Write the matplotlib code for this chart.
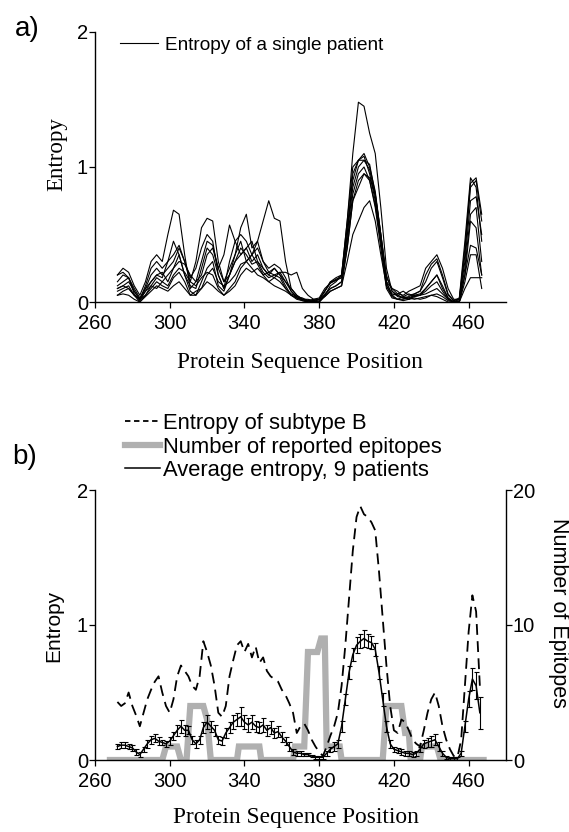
import numpy as np
import matplotlib.pyplot as plt
from matplotlib.lines import Line2D

plt.rcParams['font.family'] = ['Liberation Sans', 'DejaVu Sans']

W, H = 569, 832

# a) entropy of each single patient (9 patients)
pos_a = np.arange(272, 468, 3)
p1 = [0.15, 0.2, 0.18, 0.1, 0.03, 0.1, 0.15, 0.2, 0.18,
      0.3, 0.45, 0.35, 0.2, 0.12,
      0.1, 0.25, 0.4, 0.35, 0.2,
      0.1, 0.2, 0.3, 0.35, 0.4,
      0.3, 0.35, 0.25, 0.2, 0.25,
      0.2, 0.15, 0.1, 0.05, 0.02,
      0.01, 0.0, 0.0, 0.05, 0.12,
      0.15, 0.2, 0.6, 1.1, 1.48,
      1.45, 1.25, 1.1, 0.7, 0.25,
      0.08, 0.05, 0.03, 0.02, 0.05,
      0.05, 0.1, 0.15, 0.2, 0.1,
      0.03, 0.0, 0.0, 0.2, 0.6,
      0.55, 0.2]
p2 = [0.2, 0.25, 0.22, 0.12, 0.05, 0.15, 0.3, 0.35, 0.3,
      0.5, 0.68, 0.65, 0.35, 0.1,
      0.15, 0.3, 0.45, 0.42, 0.25,
      0.15, 0.25, 0.35, 0.45, 0.3,
      0.35, 0.28, 0.2, 0.22, 0.25,
      0.2, 0.12, 0.05, 0.03, 0.02,
      0.02, 0.01, 0.02, 0.08, 0.15,
      0.16, 0.18, 0.5, 0.85, 1.0,
      1.05, 1.02, 0.8, 0.5, 0.15,
      0.1, 0.06, 0.05, 0.08, 0.1,
      0.12, 0.25, 0.3, 0.35, 0.25,
      0.1, 0.02, 0.02, 0.35, 0.85,
      0.9, 0.6]
p3 = [0.1, 0.12, 0.15, 0.08, 0.02, 0.1, 0.2, 0.25, 0.2,
      0.25, 0.3, 0.4, 0.3, 0.15,
      0.3, 0.55, 0.62, 0.6, 0.3,
      0.15, 0.2, 0.3, 0.4, 0.35,
      0.28, 0.3, 0.22, 0.18, 0.2,
      0.18, 0.1, 0.06, 0.04, 0.02,
      0.01, 0.02, 0.03, 0.1, 0.14,
      0.16, 0.2, 0.55, 0.9, 1.05,
      1.08, 0.95, 0.75, 0.45, 0.12,
      0.05, 0.06, 0.08, 0.05, 0.06,
      0.08, 0.15, 0.25, 0.3, 0.18,
      0.05, 0.01, 0.03, 0.45, 0.92,
      0.85, 0.45]
p4 = [0.05, 0.08, 0.1, 0.05, 0.02, 0.05, 0.12, 0.18, 0.15,
      0.2, 0.25, 0.3, 0.28, 0.2,
      0.15, 0.2, 0.35, 0.4, 0.25,
      0.35, 0.57, 0.45, 0.35, 0.4,
      0.45, 0.3, 0.25, 0.2, 0.18,
      0.15, 0.1, 0.05, 0.03, 0.02,
      0.0, 0.0, 0.01, 0.06, 0.1,
      0.12, 0.15, 0.45, 0.8, 0.95,
      1.0, 0.9, 0.7, 0.4, 0.1,
      0.03, 0.02, 0.04, 0.03, 0.05,
      0.06, 0.1, 0.15, 0.2, 0.12,
      0.03, 0.0, 0.02, 0.3, 0.75,
      0.78, 0.5]
p5 = [0.12, 0.15, 0.18, 0.06, 0.01, 0.08, 0.15, 0.2, 0.22,
      0.15, 0.25, 0.35, 0.2, 0.08,
      0.05, 0.15, 0.25, 0.3, 0.12,
      0.08, 0.2, 0.35, 0.55, 0.65,
      0.4, 0.45, 0.3, 0.22, 0.2,
      0.22, 0.15, 0.08, 0.03, 0.01,
      0.0, 0.0, 0.02, 0.08, 0.14,
      0.17, 0.18, 0.5, 0.95, 1.05,
      1.1, 1.0, 0.82, 0.5, 0.18,
      0.1, 0.08, 0.04, 0.06, 0.04,
      0.05, 0.08, 0.12, 0.15, 0.08,
      0.02, 0.0, 0.01, 0.25, 0.65,
      0.7, 0.3]
p6 = [0.08, 0.1, 0.12, 0.05, 0.0, 0.05, 0.1, 0.15, 0.12,
      0.1, 0.18, 0.22, 0.15, 0.05,
      0.08, 0.1, 0.2, 0.25, 0.15,
      0.12, 0.15, 0.2, 0.28, 0.3,
      0.35, 0.45, 0.6, 0.75, 0.62,
      0.6, 0.3, 0.1, 0.05, 0.02,
      0.01, 0.0, 0.0, 0.05, 0.1,
      0.12, 0.15, 0.4, 0.75, 0.85,
      0.95, 0.92, 0.8, 0.5, 0.2,
      0.08, 0.04, 0.03, 0.02, 0.04,
      0.05, 0.06, 0.08, 0.1, 0.06,
      0.02, 0.0, 0.0, 0.2, 0.42,
      0.4, 0.2]
p7 = [0.1, 0.12, 0.1, 0.05, 0.02, 0.08, 0.12, 0.1, 0.15,
      0.12, 0.2, 0.25, 0.22, 0.15,
      0.12, 0.18, 0.22, 0.2, 0.1,
      0.05, 0.1, 0.15, 0.25, 0.3,
      0.25, 0.2, 0.18, 0.15, 0.18,
      0.22, 0.22, 0.2, 0.22, 0.1,
      0.05, 0.02, 0.02, 0.04, 0.08,
      0.1, 0.12, 0.3, 0.5, 0.6,
      0.7, 0.75, 0.6, 0.35, 0.12,
      0.04, 0.02, 0.02, 0.03, 0.02,
      0.03, 0.04, 0.05, 0.06, 0.04,
      0.01, 0.0, 0.0, 0.1, 0.18,
      0.18, 0.18]
p8 = [0.05, 0.06, 0.05, 0.02, 0.0, 0.04, 0.08, 0.12, 0.1,
      0.08, 0.12, 0.15, 0.1, 0.05,
      0.05, 0.1, 0.15, 0.12, 0.08,
      0.05, 0.08, 0.12, 0.2, 0.25,
      0.22, 0.25, 0.2, 0.15, 0.12,
      0.1, 0.08, 0.05, 0.02, 0.01,
      0.0, 0.0, 0.0, 0.04, 0.08,
      0.1, 0.12, 0.4, 0.75, 0.9,
      0.95, 0.9, 0.72, 0.45, 0.15,
      0.05, 0.02, 0.01, 0.02, 0.03,
      0.02, 0.03, 0.05, 0.04, 0.02,
      0.0, 0.0, 0.0, 0.15, 0.35,
      0.35, 0.1]
p9 = [0.2, 0.22, 0.18, 0.08, 0.02, 0.12, 0.25, 0.3, 0.25,
      0.3, 0.35, 0.42, 0.3, 0.18,
      0.25, 0.4, 0.5, 0.45, 0.2,
      0.1, 0.3, 0.45, 0.5, 0.45,
      0.35, 0.4, 0.3, 0.25, 0.28,
      0.25, 0.18, 0.08, 0.04, 0.03,
      0.01, 0.01, 0.02, 0.08, 0.15,
      0.18, 0.2, 0.6, 1.0, 1.05,
      1.05, 0.98, 0.78, 0.45, 0.14,
      0.06, 0.05, 0.03, 0.04, 0.06,
      0.08, 0.2, 0.28, 0.32, 0.2,
      0.06, 0.01, 0.02, 0.4, 0.88,
      0.92, 0.65]
patients = [p1, p2, p3, p4, p5, p6, p7, p8, p9]

# b) subtype B entropy, average patient entropy (+ error), epitope counts
pos_b = np.arange(272, 468, 2)
subtype_b = [0.43, 0.40, 0.42, 0.50, 0.40, 0.33, 0.25, 0.35, 0.45, 0.52,
             0.58, 0.62, 0.50, 0.40, 0.35, 0.45, 0.62, 0.70, 0.66, 0.62,
             0.55, 0.52, 0.62, 0.88, 0.80, 0.70, 0.55, 0.35, 0.32, 0.40,
             0.62, 0.74, 0.85, 0.88, 0.80, 0.86, 0.76, 0.84, 0.72, 0.76,
             0.66, 0.62, 0.60, 0.58, 0.52, 0.48, 0.42, 0.35, 0.20, 0.25,
             0.27, 0.22, 0.15, 0.10, 0.06, 0.03, 0.10, 0.18, 0.25, 0.35,
             0.55, 0.85, 1.20, 1.55, 1.80, 1.88, 1.82, 1.80, 1.76, 1.70,
             1.40, 1.05, 0.70, 0.40, 0.22, 0.20, 0.30, 0.28, 0.22, 0.15,
             0.12, 0.10, 0.22, 0.35, 0.45, 0.50, 0.40, 0.25, 0.15, 0.08,
             0.03, 0.02, 0.15, 0.55, 0.95, 1.22, 1.10, 0.55]
avg_entropy = [0.10, 0.11, 0.11, 0.10, 0.09, 0.06, 0.04, 0.08, 0.12, 0.15,
               0.16, 0.14, 0.13, 0.12, 0.14, 0.18, 0.22, 0.25, 0.22, 0.22,
               0.15, 0.12, 0.15, 0.24, 0.28, 0.25, 0.22, 0.15, 0.14, 0.20,
               0.24, 0.28, 0.30, 0.32, 0.28, 0.26, 0.28, 0.25, 0.24, 0.26,
               0.22, 0.24, 0.20, 0.21, 0.17, 0.14, 0.10, 0.06, 0.05, 0.05,
               0.04, 0.04, 0.03, 0.02, 0.02, 0.02, 0.05, 0.08, 0.10, 0.12,
               0.25, 0.45, 0.65, 0.78, 0.85, 0.88, 0.90, 0.88, 0.87, 0.82,
               0.65, 0.45, 0.25, 0.12, 0.08, 0.07, 0.06, 0.05, 0.05, 0.04,
               0.05, 0.08, 0.12, 0.13, 0.14, 0.15, 0.10, 0.05, 0.02, 0.01,
               0.01, 0.01, 0.05, 0.25, 0.45, 0.60, 0.55, 0.35]
avg_err = [0.02, 0.02, 0.02, 0.02, 0.02, 0.02, 0.02, 0.02, 0.03, 0.03,
           0.03, 0.03, 0.02, 0.02, 0.03, 0.03, 0.04, 0.05, 0.04, 0.03,
           0.03, 0.03, 0.03, 0.04, 0.05, 0.04, 0.04, 0.03, 0.03, 0.04,
           0.04, 0.05, 0.05, 0.07, 0.05, 0.05, 0.05, 0.04, 0.04, 0.05,
           0.04, 0.05, 0.04, 0.04, 0.04, 0.03, 0.03, 0.02, 0.02, 0.02,
           0.01, 0.01, 0.01, 0.01, 0.01, 0.01, 0.02, 0.02, 0.03, 0.03,
           0.04, 0.04, 0.05, 0.05, 0.06, 0.05, 0.06, 0.05, 0.05, 0.05,
           0.05, 0.05, 0.04, 0.03, 0.02, 0.02, 0.02, 0.02, 0.02, 0.02,
           0.02, 0.02, 0.03, 0.03, 0.04, 0.04, 0.03, 0.02, 0.01, 0.01,
           0.01, 0.01, 0.02, 0.04, 0.06, 0.08, 0.10, 0.12]
epi_pos = [268, 296, 298, 304, 306, 309, 311, 318, 320, 322, 336, 337, 348, 349,
           366, 367, 372, 374, 379, 381, 383, 384, 391, 392, 414, 416, 424, 426,
           428, 429, 434, 435, 443, 445, 468]
epi_cnt = [0, 0, 1, 1, 0, 0, 4, 4, 3, 0, 0, 1, 1, 0,
           0, 1, 1, 8, 8, 9, 9, 1, 1, 0, 0, 4, 4, 2,
           2, 0, 0, 1, 1, 0, 0]

xticks = [260, 300, 340, 380, 420, 460]


def fx(px):
    return px / W


def fy(py):
    return 1 - py / H


def style(ax):
    ax.set_xlim(260, 480)
    ax.set_ylim(0, 2)
    ax.set_xticks(xticks)
    ax.set_yticks([0, 1, 2])
    for s in ['top', 'right']:
        ax.spines[s].set_visible(False)
    for s in ['left', 'bottom']:
        ax.spines[s].set_linewidth(1.0)
    ax.tick_params(axis='both', direction='out', length=4.5, width=0.9, labelsize=14.5)
    ax.tick_params(axis='y', pad=0.5)
    ax.tick_params(axis='x', pad=4)


fig = plt.figure(figsize=(W / 100, H / 100), dpi=100)

# ---------------- panel a
axa = fig.add_axes([fx(95), fy(302), (506 - 95) / W, (302 - 32) / H])
for p in patients:
    axa.plot(pos_a, p, color='black', lw=0.8)
style(axa)

fig.legend([Line2D([], [], color='black', lw=0.8)], ['Entropy of a single patient'],
           loc='center left', bbox_to_anchor=(fx(120), fy(45)), frameon=False,
           fontsize=13.7, handlelength=2.0, handletextpad=0.35, borderpad=0, borderaxespad=0)

fig.text(fx(27), fy(29), 'a)', fontsize=20, ha='center', va='center')
fig.text(fx(57), fy(154), 'Entropy', family='Liberation Serif', fontsize=16.5,
         rotation=90, ha='center', va='center')
fig.text(fx(300), fy(363), 'Protein Sequence Position', family='Liberation Serif',
         fontsize=16.8, ha='center', va='center')

# ---------------- panel b
axb = fig.add_axes([fx(95), fy(760), (506 - 95) / W, (760 - 490) / H])
axe = axb.twinx()
axe.plot(epi_pos, epi_cnt, color='#b0b0b0', lw=4.5, solid_joinstyle='miter')
axe.set_ylim(0, 20)
axe.set_yticks([0, 10, 20])
for s in ['top', 'left', 'bottom']:
    axe.spines[s].set_visible(False)
axe.spines['right'].set_linewidth(1.0)
axe.tick_params(axis='y', direction='out', length=4.5, width=0.9, labelsize=14.5, pad=0.5)

axb.set_zorder(axe.get_zorder() + 1)
axb.patch.set_visible(False)
axb.plot(pos_b, subtype_b, color='black', lw=1.3, linestyle=(0, (6, 3.5)))
axb.errorbar(pos_b, avg_entropy, yerr=avg_err, color='black', lw=1.1,
             elinewidth=0.8, capsize=1.8, capthick=0.8)
style(axb)

fig.legend([Line2D([], [], color='black', lw=1.3, linestyle=(0, (3, 2))),
            Line2D([], [], color='#b0b0b0', lw=4.5),
            Line2D([], [], color='black', lw=1.1)],
           ['Entropy of subtype B', 'Number of reported epitopes', 'Average entropy, 9 patients'],
           loc='center left', bbox_to_anchor=(fx(125), fy(447)), frameon=False,
           fontsize=15.8, handlelength=1.6, handletextpad=0.15, labelspacing=0.12,
           borderpad=0, borderaxespad=0)

fig.text(fx(25), fy(457), 'b)', fontsize=20, ha='center', va='center')
fig.text(fx(54), fy(626), 'Entropy', fontsize=15, rotation=90, ha='center', va='center')
fig.text(fx(559), fy(613), 'Number of Epitopes', fontsize=15.5, rotation=270,
         ha='center', va='center')
fig.text(fx(296), fy(817), 'Protein Sequence Position', family='Liberation Serif',
         fontsize=16.8, ha='center', va='center')

fig.savefig('out.png', dpi=100)
